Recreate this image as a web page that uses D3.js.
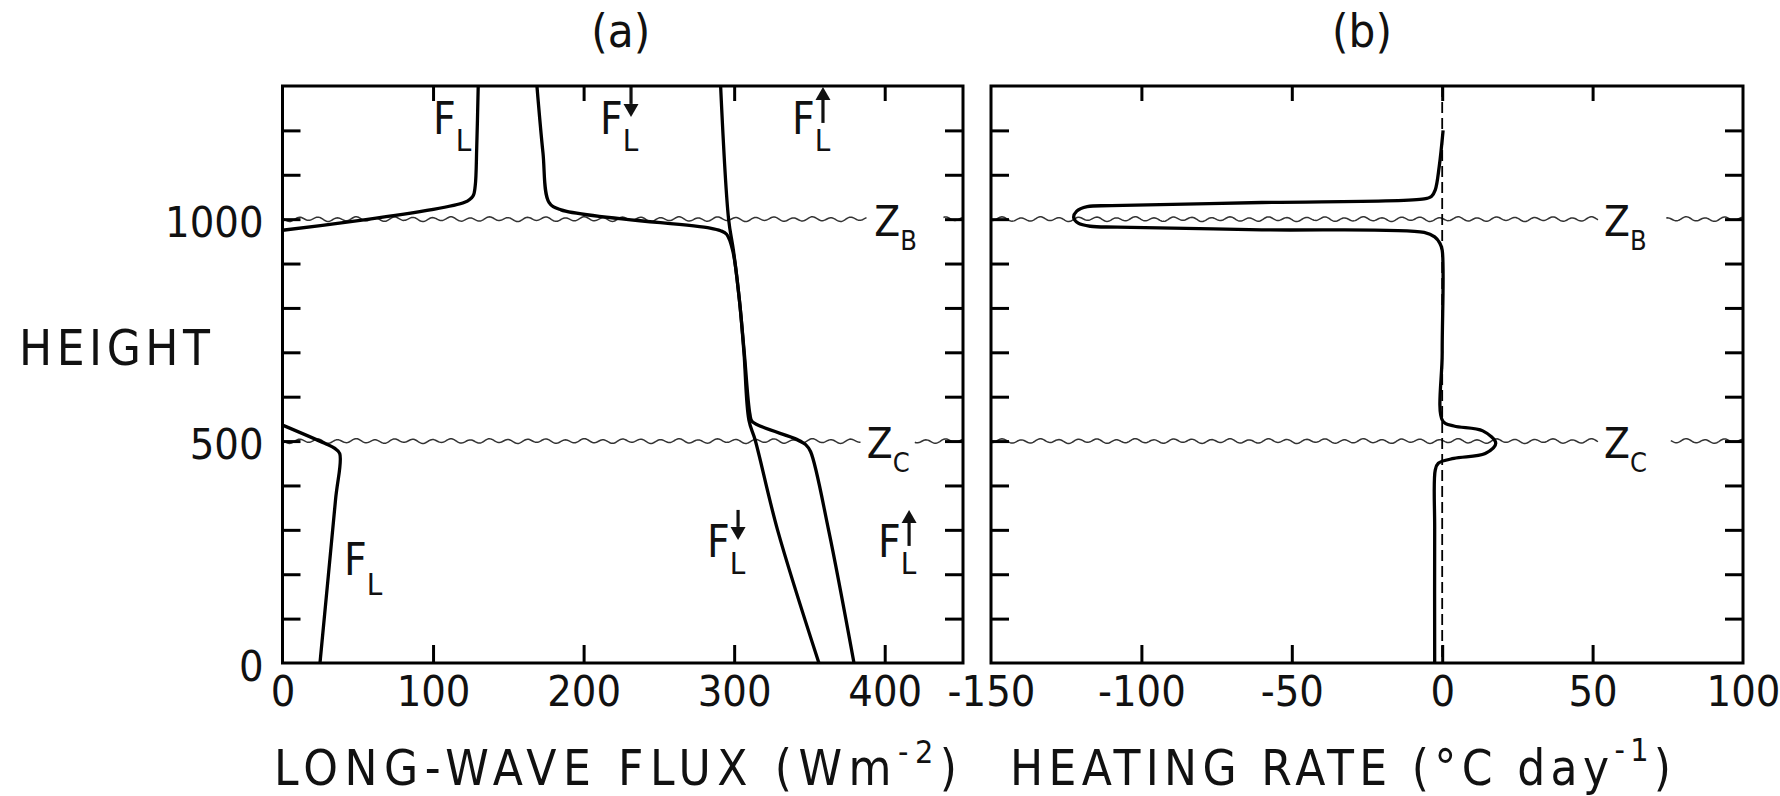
<!DOCTYPE html>
<html>
<head>
<meta charset="utf-8">
<script src="https://cdn.jsdelivr.net/npm/d3@7"></script>
<style>
  body { margin: 0; background: #fff; }
  svg text { font-family: "Liberation Sans Narrow", "DejaVu Sans Condensed", "Liberation Sans", sans-serif; fill: #111; }
</style>
</head>
<body>
<div id="chart"></div>
<script>
////////
// Values
// heights in m, long-wave flux in W m-2, heating rate in deg C per day

let heightTicks = [100, 200, 300, 400, 500, 600, 700, 800, 900, 1000, 1100, 1200];
let heightLabels = [0, 500, 1000];
let fluxTicks = [0, 100, 200, 300, 400];
let rateTicks = [-150, -100, -50, 0, 50, 100];

// cloud top / cloud base levels
let cloudHeights = [1000, 500];
let cloudSubs = ["B", "C"];

// panel (a) curves, [flux, height]
let netFluxUpper = [[130, 1300], [129, 1160], [128, 1075], [126.5, 1052], [121, 1038], [0, 975]];
let netFluxLower = [[0, 536], [28, 495], [34.5, 484], [38, 472], [35.2, 367], [24.9, 0]];
let downFlux = [[169, 1300], [173, 1150], [177, 1038], [185, 1021], [284, 980], [291, 974],
                [295, 966], [299, 930], [303.5, 817], [306.5, 700], [309.8, 547], [314, 502],
                [328.8, 300], [356.3, 0]];
let upFlux = [[291, 1300], [296.3, 1000], [299.5, 930], [303.5, 817], [306.7, 700], [310.5, 560],
              [312, 544], [341.5, 504], [347.5, 492], [350.8, 476], [362.7, 300], [379.6, 0]];

// panel (b) curve, [heating rate, height]
let heatingRate = [[0.3, 1200], [-1, 1118], [-2.3, 1066], [-3.6, 1051], [-6, 1045.5], [-60, 1037.5],
                   [-110, 1030.5], [-118, 1028], [-121.5, 1018], [-122.5, 1003], [-121, 991],
                   [-117, 984], [-108, 982], [-60, 976], [-6, 970], [-2.5, 960], [-0.8, 946],
                   [0, 930], [0, 700], [0.2, 545], [3.9, 534], [13.5, 523], [17.8, 495],
                   [14.3, 472], [3.9, 461], [-1.3, 450], [-2.3, 435], [-2.5, 300], [-2.5, 0]];

// curve labels: [flux, height, kind]  kind: 0 = net, -1 = downward, 1 = upward
let fluxLabels = [[100, 1192, 0], [210.9, 1192, -1], [338.4, 1192, 1],
                  [40.8, 198, 0], [282, 239, -1], [395.6, 239, 1]];


////////
// Canvas
let svg_width = 1780;
let svg_height = 796;

let svg = d3.select("#chart")
  .append("svg")
  .attr("width", svg_width)
  .attr("height", svg_height);

let plotTop = 86;
let plotBottom = 663;

let yScale = d3.scaleLinear().domain([0, 1300]).range([plotBottom, plotTop]);
let xFlux = d3.scaleLinear().domain([0, 452]).range([282.5, 963]);
let xRate = d3.scaleLinear().domain([-150, 100]).range([991, 1743]);


////////
// Wavy cloud-level lines (drawn first so the curves sit on top)
function wave(g, xScale, h, from, to) {
  let y0 = yScale(h);
  let pts = d3.range(xScale(from), xScale(to), 1).map(function(x) {
    return [x, y0 + 1.8 * Math.sin(x / 19 * 2 * Math.PI) + 0.6 * Math.sin(x / 7.3)];
  });
  g.append("path")
    .attr("d", d3.line()(pts))
    .attr("fill", "none")
    .attr("stroke", "#333")
    .attr("stroke-width", 1.5);
}

function cloudLabel(g, xScale, h, sub, x) {
  let y0 = yScale(h);
  let t = g.append("text").attr("font-size", 42);
  t.append("tspan").attr("x", xScale(x)).attr("y", y0 + 17).text("Z");
  t.append("tspan").attr("x", xScale(x) + 26).attr("y", y0 + 31).attr("font-size", 27).text(sub);
}


////////
// Frame and ticks of one panel
function drawFrame(xScale, labels) {
  let g = svg.append("g");
  let x0 = xScale.range()[0], x1 = xScale.range()[1];
  let inner = labels.filter(function(v) {
    return v > xScale.domain()[0] && v < xScale.domain()[1];
  });

  let tickGroups = [
    [d3.axisLeft(yScale).tickValues(heightTicks).tickSize(-18), `translate(${x0},0)`],
    [d3.axisRight(yScale).tickValues(heightTicks).tickSize(-18), `translate(${x1},0)`],
    [d3.axisBottom(xScale).tickValues(inner).tickSize(-18), `translate(0,${plotBottom})`],
    [d3.axisTop(xScale).tickValues(inner).tickSize(-15), `translate(0,${plotTop})`]
  ];
  tickGroups.forEach(function(t) {
    let a = g.append("g")
      .attr("transform", t[1])
      .call(t[0].tickFormat(""));
    a.select(".domain").remove();
    a.selectAll("line").attr("stroke", "#000").attr("stroke-width", 3);
  });

  // bottom tick labels
  let lab = g.append("g")
    .attr("transform", `translate(0,${plotBottom})`)
    .call(d3.axisBottom(xScale).tickValues(labels).tickSize(0).tickPadding(12)
      .tickFormat(function(d) { return d < 0 ? "-" + Math.abs(d) : String(d); }));
  lab.select(".domain").remove();
  lab.selectAll("text").attr("font-size", 43).attr("font-family", null).attr("fill", "#111");

  g.append("rect")
    .attr("x", x0)
    .attr("y", plotTop)
    .attr("width", x1 - x0)
    .attr("height", plotBottom - plotTop)
    .attr("fill", "none")
    .attr("stroke", "#000")
    .attr("stroke-width", 3);
  return g;
}

function clipFor(id, xScale) {
  svg.append("clipPath").attr("id", id)
    .append("rect")
    .attr("x", xScale.range()[0])
    .attr("y", plotTop)
    .attr("width", xScale.range()[1] - xScale.range()[0])
    .attr("height", plotBottom - plotTop);
}


////////
// Panel (a): long-wave fluxes
let gA = svg.append("g");
wave(gA, xFlux, cloudHeights[0], 0, 388);
wave(gA, xFlux, cloudHeights[0], 439, 452);
wave(gA, xFlux, cloudHeights[1], 0, 384);
wave(gA, xFlux, cloudHeights[1], 420, 452);
cloudLabel(gA, xFlux, cloudHeights[0], cloudSubs[0], 393);
cloudLabel(gA, xFlux, cloudHeights[1], cloudSubs[1], 388);

clipFor("clipA", xFlux);
let fluxLine = d3.line()
  .x(function(d) { return xFlux(d[0]); })
  .y(function(d) { return yScale(d[1]); })
  .curve(d3.curveCatmullRom.alpha(0.5));

[netFluxUpper, netFluxLower, downFlux, upFlux].forEach(function(series) {
  gA.append("path")
    .attr("d", fluxLine(series))
    .attr("clip-path", "url(#clipA)")
    .attr("fill", "none")
    .attr("stroke", "#000")
    .attr("stroke-width", 3.3)
    .attr("stroke-linejoin", "round");
});

// F_L labels, with arrows for the directional fluxes
fluxLabels.forEach(function(d) {
  let x = xFlux(d[0]), y = yScale(d[1]);
  let subDy = d[2] === 0 && d[1] < 600 ? 20 : 17;
  let t = gA.append("text").attr("font-size", 44);
  let f = t.append("tspan").attr("x", x).attr("y", y).text("F");
  let fw = f.node().getComputedTextLength();
  t.append("tspan").attr("x", x + Math.max(14, fw)).attr("y", y + subDy).attr("font-size", 31).text("L");
  if (d[2] !== 0) {
    let ax = x + 31;
    let tip, base, tail;
    if (d[2] < 0) { tip = y - 17; base = tip - 13; tail = y - 47; }
    else { tip = y - 47; base = tip + 13; tail = y - 11; }
    gA.append("line")
      .attr("x1", ax).attr("x2", ax)
      .attr("y1", tail).attr("y2", base)
      .attr("stroke", "#111").attr("stroke-width", 3.2);
    gA.append("path")
      .attr("d", `M${ax - 7.5},${base}L${ax + 7.5},${base}L${ax},${tip}Z`)
      .attr("fill", "#111");
  }
});

let frameA = drawFrame(xFlux, fluxTicks);

// height labels on the left
let yLab = frameA.append("g")
  .attr("transform", `translate(${xFlux.range()[0]},0)`)
  .call(d3.axisLeft(yScale).tickValues(heightLabels).tickSize(0).tickPadding(19).tickFormat(d3.format("d")));
yLab.select(".domain").remove();
yLab.selectAll("text").attr("font-size", 43).attr("font-family", null).attr("fill", "#111").attr("dy", "0.4em");


////////
// Panel (b): heating rate
let gB = svg.append("g");
wave(gB, xRate, cloudHeights[0], -150, 51.8);
wave(gB, xRate, cloudHeights[0], 74.5, 100);
wave(gB, xRate, cloudHeights[1], -150, 51.8);
wave(gB, xRate, cloudHeights[1], 76, 100);
cloudLabel(gB, xRate, cloudHeights[0], cloudSubs[0], 53.8);
cloudLabel(gB, xRate, cloudHeights[1], cloudSubs[1], 53.8);

// zero line
gB.append("line")
  .attr("x1", xRate(0)).attr("x2", xRate(0))
  .attr("y1", plotTop).attr("y2", plotBottom)
  .attr("stroke", "#000")
  .attr("stroke-width", 1.8)
  .attr("stroke-dasharray", "11,5");

clipFor("clipB", xRate);
gB.append("path")
  .attr("d", d3.line()
    .x(function(d) { return xRate(d[0]); })
    .y(function(d) { return yScale(d[1]); })
    .curve(d3.curveCatmullRom.alpha(0.5))(heatingRate))
  .attr("clip-path", "url(#clipB)")
  .attr("fill", "none")
  .attr("stroke", "#000")
  .attr("stroke-width", 3.3)
  .attr("stroke-linejoin", "round");

drawFrame(xRate, rateTicks);


////////
// Titles and axis names
svg.append("text")
  .attr("x", (xFlux.range()[0] + xFlux.range()[1]) / 2 - 2)
  .attr("y", 47)
  .attr("text-anchor", "middle")
  .attr("font-size", 47)
  .text("(a)");

svg.append("text")
  .attr("x", (xRate.range()[0] + xRate.range()[1]) / 2 - 5)
  .attr("y", 47)
  .attr("text-anchor", "middle")
  .attr("font-size", 47)
  .text("(b)");

svg.append("text")
  .attr("x", 19)
  .attr("y", 365)
  .attr("font-size", 49)
  .attr("textLength", 191)
  .attr("lengthAdjust", "spacing")
  .text("HEIGHT");

let xtA = svg.append("text")
  .attr("x", 274)
  .attr("y", 785)
  .attr("font-size", 49)
  .attr("textLength", 683)
  .attr("lengthAdjust", "spacing");
xtA.append("tspan").text("LONG-WAVE FLUX (Wm");
xtA.append("tspan").attr("font-size", 32).attr("dy", -22).text("-2");
xtA.append("tspan").attr("dy", 22).text(")");

let xtB = svg.append("text")
  .attr("x", 1010)
  .attr("y", 785)
  .attr("font-size", 49)
  .attr("textLength", 661)
  .attr("lengthAdjust", "spacing");
xtB.append("tspan").text("HEATING RATE (°C day");
xtB.append("tspan").attr("font-size", 32).attr("dy", -24).text("-1");
xtB.append("tspan").attr("dy", 24).text(")");
</script>
</body>
</html>
